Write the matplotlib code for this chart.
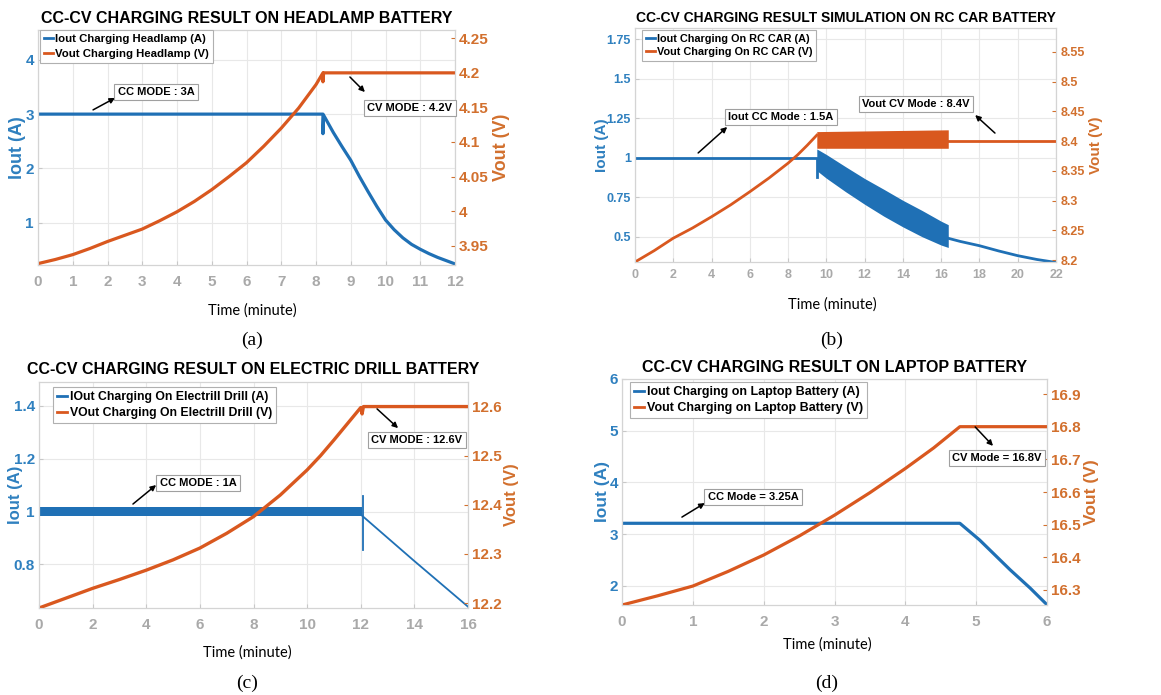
import matplotlib
matplotlib.use("Agg")
import matplotlib.pyplot as plt
from matplotlib.lines import Line2D

# colours (MATLAB default pair)
BLUE = "#1f70b5"
ORANGE = "#d9581f"
TICK_BLUE = "#2f80bf"
TICK_ORANGE = "#d2702e"
GRAY = "#a9a9a9"

# ---------- (a) headlamp ----------
a_time_i = [0, 8.2, 8.2, 8.22, 8.5, 8.75, 9.0, 9.25, 9.5, 9.75, 10.0, 10.25, 10.5,
            10.75, 11.0, 11.25, 11.5, 11.75, 12.0]
a_iout = [3.0, 3.0, 2.64, 2.98, 2.66, 2.4, 2.15, 1.85, 1.57, 1.3, 1.05, 0.87, 0.72,
          0.6, 0.51, 0.43, 0.36, 0.3, 0.24]
a_time_v = [0, 0.5, 1, 1.5, 2, 2.5, 3, 3.5, 4, 4.5, 5, 5.5, 6, 6.5, 7, 7.5, 8, 8.2,
            8.2, 8.22, 12]
a_vout = [3.924, 3.930, 3.937, 3.946, 3.956, 3.965, 3.974, 3.986, 3.999, 4.014, 4.031,
          4.05, 4.07, 4.094, 4.12, 4.149, 4.183, 4.2, 4.187, 4.2, 4.2]

# ---------- (b) RC car ----------
b_time_i = [0, 9.5, 9.5]
b_iout = [1.0, 1.0, 0.875]
b_band_time = [9.5, 10, 11, 12, 13, 14, 15, 16, 16.37]
b_band_hi = [1.055, 1.02, 0.943, 0.868, 0.80, 0.73, 0.666, 0.598, 0.576]
b_band_lo = [0.918, 0.87, 0.785, 0.705, 0.63, 0.562, 0.50, 0.447, 0.432]
b_tail_time = [16.37, 17, 18, 19, 20, 21, 22]
b_tail_iout = [0.49, 0.47, 0.443, 0.41, 0.38, 0.356, 0.337]
b_time_v = [0, 1, 2, 3, 4, 5, 6, 7, 8, 8.5, 9, 9.5]
b_vout = [8.197, 8.216, 8.237, 8.254, 8.273, 8.293, 8.315, 8.338, 8.363, 8.377, 8.393, 8.41]
b_vband_time = [9.5, 16.37]
b_vband_hi = [8.416, 8.419]
b_vband_lo = [8.388, 8.388]
b_vtail_time = [16.37, 22.0]
b_vtail = [8.401, 8.401]

# ---------- (c) electric drill ----------
c_band_time = [0, 12.05]
c_band_hi = [1.016, 1.016]
c_band_lo = [0.983, 0.983]
c_spike_time = [12.08, 12.08]
c_spike = [0.854, 1.06]
c_time_i = [12.03, 13.96, 16.0]
c_iout = [0.986, 0.816, 0.64]
c_time_v = [0, 1, 2, 3, 4, 5, 6, 7, 8, 9, 10, 10.5, 11, 11.5, 12, 12.05, 12.1, 16.0]
c_vout = [12.19, 12.21, 12.23, 12.248, 12.267, 12.288, 12.312, 12.342, 12.376, 12.42,
          12.471, 12.5, 12.532, 12.565, 12.598, 12.585, 12.6, 12.6]

# ---------- (d) laptop ----------
d_time_i = [0, 4.77, 5.05, 5.48, 5.76, 6.0]
d_iout = [3.21, 3.21, 2.885, 2.31, 1.96, 1.635]
d_time_v = [0, 0.5, 1.0, 1.5, 2.0, 2.5, 3.0, 3.5, 4.0, 4.4, 4.77, 6.0]
d_vout = [16.254, 16.282, 16.312, 16.357, 16.407, 16.465, 16.529, 16.598, 16.672,
          16.735, 16.8, 16.8]

plt.rcParams["font.family"] = ["Liberation Sans", "DejaVu Sans"]
plt.rcParams["font.weight"] = "bold"

fig = plt.figure(figsize=(11.61, 6.95), dpi=100)
W, H = 1161.0, 695.0


def make_axes(l, t, r, b):
    ax = fig.add_axes([l / W, 1 - b / H, (r - l) / W, (b - t) / H])
    ax2 = ax.twinx()
    return ax, ax2


def style(ax, ax2, p):
    ax.set_xlim(p["xlim"])
    ax.set_ylim(p["ylim"])
    ax2.set_ylim(p["ylim2"])
    ax.set_xticks(p["xticks"])
    ax.set_yticks(p["yticks"])
    ax2.set_yticks(p["yticks2"])
    ax.set_yticklabels(p["ylabels"])
    ax2.set_yticklabels(p["ylabels2"])
    ax.grid(True, color="#e8e8e8", lw=0.8)
    ax.set_axisbelow(True)
    for a in (ax, ax2):
        for s in a.spines.values():
            s.set_color("#d4d4d4")
            s.set_linewidth(0.8)
    ax.tick_params(axis="x", direction="in", length=3, color="#c8c8c8",
                   labelcolor=GRAY, labelsize=p["ts"], pad=p["xpad"])
    ax.tick_params(axis="y", direction="in", length=3, color="#c8c8c8",
                   labelcolor=TICK_BLUE, labelsize=p["ts"], pad=3)
    ax2.tick_params(axis="y", direction="in", length=3, color=TICK_ORANGE,
                    labelcolor=TICK_ORANGE, labelsize=p["ts"], pad=3)
    ax.set_title(p["title"], fontsize=p["tfs"], fontweight="bold", pad=p["tpad"])
    ax.set_ylabel("Iout (A)", color=TICK_BLUE, fontsize=p["lfs"], fontweight="bold")
    ax2.set_ylabel("Vout (V)", color=TICK_ORANGE, fontsize=p["lfs"], fontweight="bold",
                   rotation=90)
    ax.yaxis.label.set_verticalalignment("center")
    ax2.yaxis.label.set_verticalalignment("center")
    ax.yaxis.set_label_coords(p["ylx"], 0.5)
    ax2.yaxis.set_label_coords(p["ylx2"], 0.5)
    handles = [Line2D([], [], color=BLUE, lw=2), Line2D([], [], color=ORANGE, lw=2)]
    leg = ax2.legend(handles, p["legend"], loc="upper left", bbox_to_anchor=p["legpos"],
                     borderaxespad=0, fontsize=p["lgfs"], handlelength=0.8,
                     handletextpad=0.2, borderpad=0.35, labelspacing=p["lsp"],
                     fancybox=False, framealpha=1, edgecolor="#b0b0b0")
    leg.get_frame().set_linewidth(0.8)
    for txt, (cx, cy), tail, head in p["notes"]:
        ax2.annotate("", xy=head, xytext=tail, xycoords="axes fraction",
                     arrowprops=dict(arrowstyle="-|>", color="black", lw=1.1,
                                     mutation_scale=8, shrinkA=0, shrinkB=0))
        ax2.text(cx, cy, txt, transform=ax2.transAxes, ha="center", va="center",
                 fontsize=p["nfs"], fontweight="bold",
                 bbox=dict(boxstyle="square,pad=0.3", fc="white", ec="#a0a0a0", lw=0.8))


def caption(x, y_label, y_cap, cap):
    fig.text(x / W, 1 - y_label / H, "Time (minute)", ha="center", va="center",
             fontsize=10.5, fontweight="normal", family=["Lato", "DejaVu Sans"])
    fig.text(x / W, 1 - y_cap / H, cap, ha="center", va="center",
             fontsize=14, fontweight="normal", family=["Liberation Serif", "DejaVu Serif"])


# (a)
ax, ax2 = make_axes(38, 30, 455, 265)
ax.plot(a_time_i, a_iout, color=BLUE, lw=2.3)
ax2.plot(a_time_v, a_vout, color=ORANGE, lw=2.3)
style(ax, ax2, dict(
    xlim=(0, 12), ylim=(0.22, 4.55), ylim2=(3.922, 4.262),
    xticks=range(0, 13), yticks=[1, 2, 3, 4], yticks2=[3.95, 4, 4.05, 4.1, 4.15, 4.2, 4.25],
    ylabels=["1", "2", "3", "4"], ylabels2=["3.95", "4", "4.05", "4.1", "4.15", "4.2", "4.25"],
    ts=11, xpad=7, title="CC-CV CHARGING RESULT ON HEADLAMP BATTERY", tfs=11.5, tpad=5,
    lfs=13, ylx=-0.05, ylx2=1.112,
    legend=["Iout Charging Headlamp (A)", "Vout Charging Headlamp (V)"],
    legpos=(0.005, 1.0), lgfs=8.2, lsp=0.45, nfs=8,
    notes=[("CC MODE : 3A", (0.283, 0.736), (0.132, 0.660), (0.185, 0.711)),
           ("CV MODE : 4.2V", (0.892, 0.668), (0.748, 0.80), (0.784, 0.736))]))
caption(252, 311, 340, "(a)")

# (b)
ax, ax2 = make_axes(635, 28, 1056, 262)
ax.plot(b_time_i, b_iout, color=BLUE, lw=2.0)
ax.fill_between(b_band_time, b_band_lo, b_band_hi, color=BLUE, lw=0)
ax.plot(b_tail_time, b_tail_iout, color=BLUE, lw=2.0)
ax2.plot(b_time_v, b_vout, color=ORANGE, lw=2.0)
ax2.fill_between(b_vband_time, b_vband_lo, b_vband_hi, color=ORANGE, lw=0)
ax2.plot(b_vtail_time, b_vtail, color=ORANGE, lw=2.0)
style(ax, ax2, dict(
    xlim=(0, 22), ylim=(0.34, 1.82), ylim2=(8.197, 8.59),
    xticks=range(0, 23, 2), yticks=[0.5, 0.75, 1, 1.25, 1.5, 1.75],
    yticks2=[8.2, 8.25, 8.3, 8.35, 8.4, 8.45, 8.5, 8.55],
    ylabels=["0.5", "0.75", "1", "1.25", "1.5", "1.75"],
    ylabels2=["8.2", "8.25", "8.3", "8.35", "8.4", "8.45", "8.5", "8.55"],
    ts=9, xpad=5, title="CC-CV CHARGING RESULT SIMULATION ON RC CAR BATTERY", tfs=10, tpad=4,
    lfs=11, ylx=-0.078, ylx2=1.095,
    legend=["Iout Charging On RC CAR (A)", "Vout Charging On RC CAR (V)"],
    legpos=(0.017, 0.991), lgfs=7.8, lsp=0.3, nfs=8,
    notes=[("Iout CC Mode : 1.5A", (0.347, 0.620), (0.150, 0.466), (0.219, 0.577)),
           ("Vout CV Mode : 8.4V", (0.667, 0.675), (0.855, 0.551), (0.808, 0.628))]))
caption(832, 305, 340, "(b)")

# (c)
ax, ax2 = make_axes(39, 382, 468, 608)
ax.fill_between(c_band_time, c_band_lo, c_band_hi, color=BLUE, lw=0)
ax.plot(c_spike_time, c_spike, color=BLUE, lw=1.3)
ax.plot(c_time_i, c_iout, color=BLUE, lw=1.3)
ax2.plot(c_time_v, c_vout, color=ORANGE, lw=2.4)
style(ax, ax2, dict(
    xlim=(0, 16), ylim=(0.635, 1.49), ylim2=(12.19, 12.65),
    xticks=range(0, 17, 2), yticks=[0.8, 1, 1.2, 1.4], yticks2=[12.2, 12.3, 12.4, 12.5, 12.6],
    ylabels=["0.8", "1", "1.2", "1.4"], ylabels2=["12.2", "12.3", "12.4", "12.5", "12.6"],
    ts=11, xpad=7, title="CC-CV CHARGING RESULT ON ELECTRIC DRILL BATTERY", tfs=11.5, tpad=6,
    lfs=12, ylx=-0.054, ylx2=1.102,
    legend=["IOut Charging On Electrill Drill (A)", "VOut Charging On Electrill Drill (V)"],
    legpos=(0.033, 0.978), lgfs=8.8, lsp=0.3, nfs=8,
    notes=[("CC MODE : 1A", (0.371, 0.553), (0.219, 0.460), (0.273, 0.544)),
           ("CV MODE : 12.6V", (0.881, 0.743), (0.788, 0.881), (0.837, 0.796))]))
caption(247, 653, 683, "(c)")

# (d)
ax, ax2 = make_axes(622, 379, 1047, 605)
ax.plot(d_time_i, d_iout, color=BLUE, lw=2.3)
ax2.plot(d_time_v, d_vout, color=ORANGE, lw=2.3)
style(ax, ax2, dict(
    xlim=(0, 6), ylim=(1.63, 6.0), ylim2=(16.254, 16.946),
    xticks=range(0, 7), yticks=[2, 3, 4, 5, 6], yticks2=[16.3, 16.4, 16.5, 16.6, 16.7, 16.8, 16.9],
    ylabels=["2", "3", "4", "5", "6"],
    ylabels2=["16.3", "16.4", "16.5", "16.6", "16.7", "16.8", "16.9"],
    ts=11, xpad=7, title="CC-CV CHARGING RESULT ON LAPTOP BATTERY", tfs=11.5, tpad=5,
    lfs=12.5, ylx=-0.047, ylx2=1.105,
    legend=["Iout Charging on Laptop Battery (A)", "Vout Charging on Laptop Battery (V)"],
    legpos=(0.019, 0.987), lgfs=9, lsp=0.3, nfs=8,
    notes=[("CC Mode = 3.25A", (0.308, 0.478), (0.141, 0.389), (0.195, 0.451)),
           ("CV Mode = 16.8V", (0.882, 0.650), (0.831, 0.788), (0.873, 0.704))]))
caption(827, 645, 683, "(d)")

fig.savefig("out.png", dpi=100)
